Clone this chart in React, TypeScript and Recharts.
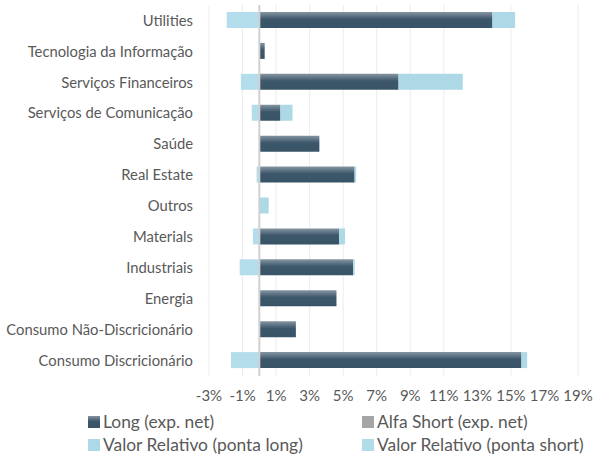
import React from 'react';
import { BarChart, Bar, XAxis, YAxis, CartesianGrid, ReferenceLine } from 'recharts';

const sectors = [
  'Utilities',
  'Tecnologia da Informação',
  'Serviços Financeiros',
  'Serviços de Comunicação',
  'Saúde',
  'Real Estate',
  'Outros',
  'Materials',
  'Industriais',
  'Energia',
  'Consumo Não-Discricionário',
  'Consumo Discricionário',
];

// values in % of NAV
const longNet = [13.9, 0.32, 8.3, 1.26, 3.58, 5.68, 0, 4.75, 5.6, 4.6, 2.18, 15.63];
const alfaShortNet = [0, 0, 0, 0, 0, 0, 0, 0, 0, 0, 0, 0];
const vrLong = [1.35, 0, 3.83, 0.72, 0, 0.09, 0.56, 0.36, 0.09, 0, 0, 0.34];
const vrShort = [-1.94, 0, -1.1, -0.45, 0, -0.16, 0, -0.38, -1.17, 0, 0, -1.69];

const xTicks = [-3, -1, 1, 3, 5, 7, 9, 11, 13, 15, 17, 19];

const data = sectors.map((name, i) => ({
  name,
  long: longNet[i],
  alfa: alfaShortNet[i],
  vrLong: vrLong[i],
  vrShort: vrShort[i],
}));

const FONT = 'Lato, "Open Sans", sans-serif';
const TEXT = '#595959';

const legendItems = [
  { key: 'long', label: 'Long (exp. net)', swatch: 'linear-gradient(to bottom, #8595a2 0%, #3c566a 45%, #3a5467 100%)' },
  { key: 'alfa', label: 'Alfa Short (exp. net)', swatch: '#a5a5a5' },
  { key: 'vrLong', label: 'Valor Relativo (ponta long)', swatch: '#add8e6' },
  { key: 'vrShort', label: 'Valor Relativo (ponta short)', swatch: '#b3dcea' },
];

export default function App() {
  return (
    <div style={{ position: 'absolute', left: 0, top: 0, width: 596, height: 456, background: '#fff' }}>
      <style>{`body{margin:0}`}</style>
      <BarChart
        width={596}
        height={456}
        data={data}
        layout="vertical"
        stackOffset="sign"
        margin={{ top: 5, right: 18, bottom: 50, left: 0 }}
      >
        <defs>
          <linearGradient id="longGrad" x1="0" y1="0" x2="0" y2="1">
            <stop offset="0%" stopColor="#8595a2" />
            <stop offset="45%" stopColor="#3c566a" />
            <stop offset="100%" stopColor="#3a5467" />
          </linearGradient>
        </defs>
        <CartesianGrid horizontal={false} stroke="#ececec" />
        <XAxis
          type="number"
          domain={[-3, 19]}
          ticks={xTicks}
          tickFormatter={(v) => `${v}%`}
          axisLine={false}
          tickLine={false}
          tickSize={0}
          tickMargin={14}
          tick={{ fontSize: 15, fill: TEXT, fontFamily: FONT }}
          height={30}
        />
        <YAxis
          type="category"
          dataKey="name"
          width={209}
          axisLine={false}
          tickLine={false}
          tickSize={0}
          tickMargin={16}
          interval={0}
          tick={{ fontSize: 14.8, fill: TEXT, fontFamily: FONT }}
        />
        <ReferenceLine x={0} stroke="#d0d0d0" strokeWidth={2} />
        <Bar dataKey="long" name="Long (exp. net)" stackId="a" fill="url(#longGrad)" barSize={16} isAnimationActive={false} />
        <Bar dataKey="alfa" name="Alfa Short (exp. net)" stackId="a" fill="#a5a5a5" barSize={16} isAnimationActive={false} />
        <Bar dataKey="vrLong" name="Valor Relativo (ponta long)" stackId="a" fill="#add9e7" barSize={16} isAnimationActive={false} />
        <Bar dataKey="vrShort" name="Valor Relativo (ponta short)" stackId="a" fill="#b3ddea" barSize={16} isAnimationActive={false} />
      </BarChart>
      <div
        style={{
          position: 'absolute',
          top: 410,
          left: 88,
          display: 'grid',
          gridTemplateColumns: '274px auto',
          fontFamily: FONT,
          fontSize: 17.4,
          color: TEXT,
        }}
      >
        {legendItems.map((it) => (
          <div key={it.key} style={{ height: 23, display: 'flex', alignItems: 'center', whiteSpace: 'nowrap' }}>
            <span style={{ width: 12, height: 12, background: it.swatch, display: 'inline-block', marginRight: 3, flexShrink: 0 }} />
            <span>{it.label}</span>
          </div>
        ))}
      </div>
    </div>
  );
}
